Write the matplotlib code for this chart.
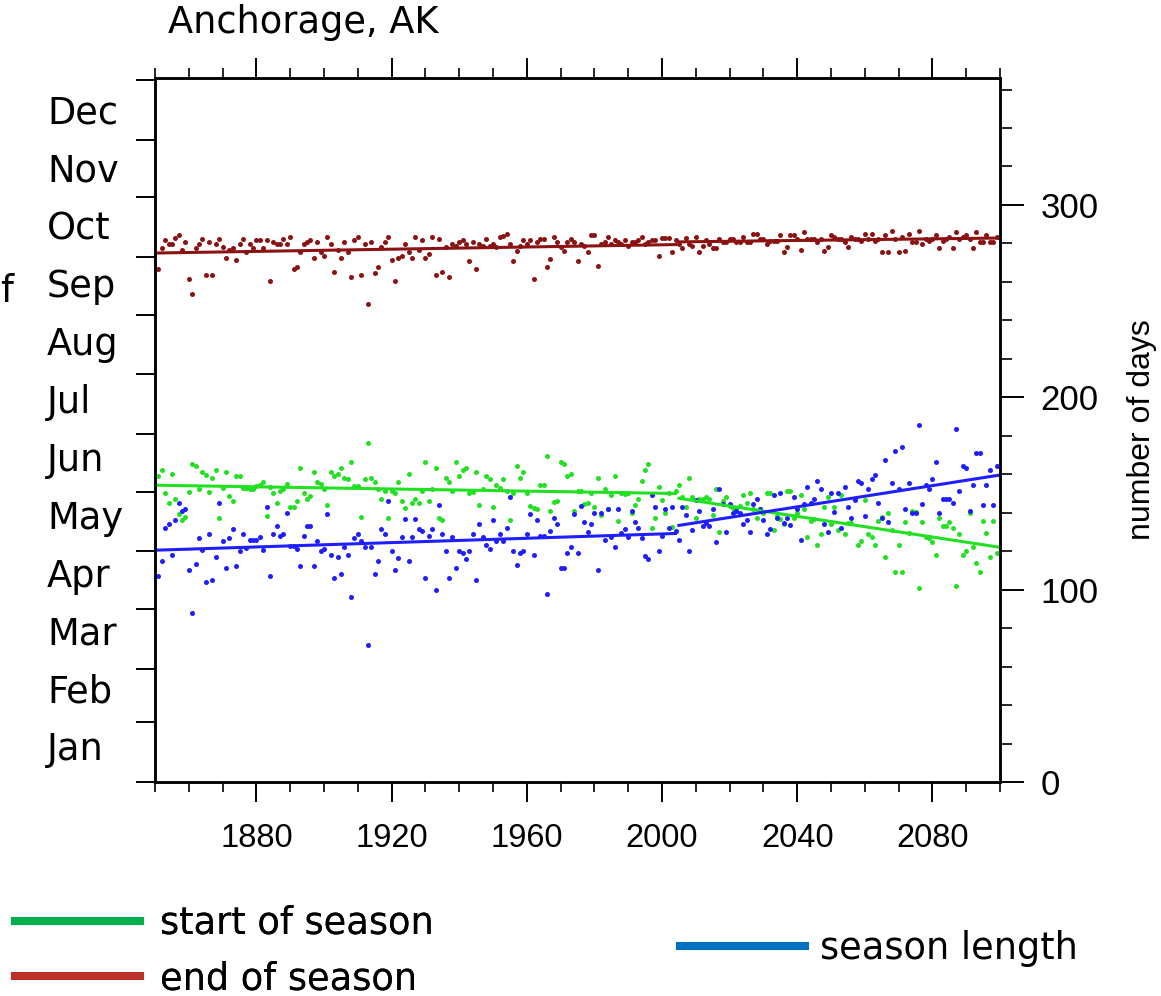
import numpy as np
import matplotlib
matplotlib.use("Agg")
import matplotlib.pyplot as plt
from matplotlib.lines import Line2D
from matplotlib.ticker import MultipleLocator

# yearly values, 1851-2099 (day of year / number of days)
years = np.arange(1851, 2100)

end_of_season = [
    266.7, 277.6, 281.8, 279.7, 279.7, 283.0, 284.5, 276.6, 280.6, 261.5,
    253.6, 277.6, 279.7, 282.5, 263.5, 280.6, 263.5, 279.7, 282.5, 278.3,
    272.6, 276.6, 277.6, 271.5, 279.7, 282.5, 275.5, 279.7, 277.6, 281.8,
    281.8, 277.6, 281.8, 260.6, 280.6, 279.7, 279.7, 282.5, 279.7, 283.5,
    266.7, 267.6, 275.5, 279.7, 280.6, 281.8, 272.6, 280.6, 275.5, 273.6,
    283.5, 279.7, 265.4, 276.6, 272.6, 280.6, 275.5, 262.6, 281.8, 283.5,
    263.5, 279.7, 248.4, 280.6, 264.4, 267.6, 278.3, 280.6, 283.5, 271.5,
    260.6, 272.6, 273.6, 279.7, 275.5, 272.6, 283.5, 276.6, 281.8, 272.6,
    274.6, 283.5, 263.5,
    282.3, 265.4, 278.0, 262.5, 279.7, 278.8, 280.6, 281.8, 279.7, 270.7,
    280.6, 266.5, 279.7, 278.8, 282.3, 278.8, 279.7, 278.0, 283.5, 284.0,
    284.9, 279.7, 270.7, 276.2, 278.8, 281.8, 279.7, 281.8, 261.5, 280.6,
    282.3, 282.3, 267.6, 271.7, 283.5, 280.6, 278.0, 276.2, 280.6, 282.3,
    280.6, 270.7, 279.7, 278.8, 275.3, 284.5, 284.5, 268.4, 279.7, 280.6,
    283.5, 279.7, 281.8, 280.6, 279.7, 281.8, 278.8, 280.6, 280.6, 281.8,
    283.5, 279.7, 280.6, 281.8, 281.8, 273.6, 282.8, 282.8, 282.8, 275.3,
    281.8, 279.7, 277.6, 282.8, 279.7, 278.8, 283.5, 275.3, 278.8, 281.8,
    279.7, 277.6, 277.6,
    282.3, 280.6, 280.6, 282.3, 282.3, 280.6, 280.6, 283.5, 280.6, 280.6,
    284.9, 284.9, 282.3, 282.3, 279.7, 281.4, 281.4, 281.4, 284.5, 275.3,
    278.3, 284.5, 284.5, 282.3, 276.6, 285.8, 282.3, 282.3, 282.3, 280.6,
    282.3, 276.2, 278.3, 284.5, 283.5, 282.3, 282.3, 280.6, 278.3, 283.5,
    282.3, 282.3, 281.4, 284.9, 282.3, 284.9, 281.4, 282.3, 275.3, 284.5,
    275.3, 286.6, 282.3, 275.3, 283.2, 276.2, 284.9, 280.6, 280.6, 286.6,
    279.7, 282.3, 281.4, 282.3, 284.5, 277.6, 281.4, 282.3, 283.2, 277.6,
    285.8, 282.3, 283.5, 284.5, 282.3, 277.6, 285.8, 280.6, 280.6, 284.5,
    280.6, 280.6, 283.2,
]

start_of_season = [
    159.0, 162.2, 150.3, 145.1, 160.2, 147.2, 139.1, 136.1, 137.9, 151.0,
    165.3, 164.2, 152.4, 161.1, 159.4, 151.0, 158.2, 162.2, 137.2, 153.0,
    161.1, 148.9, 146.0, 159.0, 159.0, 153.0, 152.9, 152.4, 152.1, 153.8,
    154.5, 155.9, 138.2, 153.5, 150.3, 145.1, 151.2, 152.1, 155.0, 143.1,
    143.1, 146.0, 163.2, 150.3, 146.9, 148.9, 161.1, 155.9, 155.0, 152.1,
    144.1, 161.1, 159.0, 160.2, 163.2, 158.2, 157.3, 166.3, 153.8, 153.8,
    137.9, 157.3, 176.4,
    158.2, 155.9, 152.1, 147.2, 151.2, 137.3, 151.2, 150.3, 156.1, 146.0,
    142.2, 160.2, 145.1, 147.2, 145.1, 151.2, 166.3, 146.0, 152.1, 163.2,
    137.3, 136.1, 158.2, 155.9, 151.2, 166.3, 159.0, 162.2, 163.2, 150.3,
    151.0, 161.1, 144.1, 152.1, 159.0, 157.3, 143.1, 154.2, 152.9, 157.3,
    151.2, 136.1, 150.3, 164.2, 158.2, 161.1, 150.3, 143.4, 142.5, 142.0,
    154.2, 154.2, 169.4, 141.1, 145.4, 146.3, 166.3, 165.1, 159.0, 160.2,
    141.1, 151.2,
    151.2, 144.3, 144.8, 150.3, 143.1, 158.1, 139.0, 152.1, 141.7, 149.0,
    159.0, 135.9, 150.3, 149.5, 150.3, 139.6, 144.1, 146.9, 156.3, 162.2,
    165.3, 132.1, 137.2, 153.3, 146.4, 139.9, 150.3, 132.5, 151.2, 154.2,
    148.2, 143.1, 158.0, 148.0, 137.2, 147.2, 147.2, 148.2, 147.2, 139.0,
    152.1, 129.9, 146.1, 148.0, 143.4, 142.6, 141.7, 143.4, 149.0, 144.8,
    150.0, 141.7, 137.0, 141.7, 139.9, 150.3, 150.3, 131.2, 138.2, 136.5,
    133.9, 151.2,
    151.2, 137.5, 139.9, 149.0, 141.7, 127.3, 135.6, 136.5, 123.0, 129.1,
    142.9, 148.3, 134.2, 142.9, 131.2, 149.0, 129.1, 134.7, 134.7, 146.9,
    123.0, 125.2, 146.4, 129.1, 127.3, 123.0, 135.9, 137.7, 117.1, 139.9,
    131.2, 109.0, 123.0, 109.0, 135.1, 129.5, 141.1, 140.3, 100.9, 135.1,
    127.3, 126.9, 124.8, 118.1, 137.0, 133.0, 133.0, 135.1, 132.1, 102.1,
    129.1, 118.1, 120.0, 139.9, 122.1, 114.0, 109.0, 135.9, 129.5, 117.1,
    135.9, 119.1,
]

season_length = [
    106.9, 114.8, 131.9, 134.0, 118.0, 136.1, 145.1, 140.8, 142.0, 110.1,
    87.9, 113.1, 127.0, 120.8, 103.8, 129.0, 104.8, 117.0, 145.1, 125.2,
    111.1, 127.0, 131.3, 112.2, 120.0, 129.0, 121.7, 126.0, 126.0, 126.0,
    127.2, 120.8, 143.1, 106.9, 129.0, 133.0, 127.8, 129.0, 139.9, 122.9,
    122.9, 121.2, 112.2, 127.8, 133.0, 133.0, 112.2, 125.2, 120.0, 121.2,
    139.1, 118.2, 106.1, 117.0, 108.0, 122.2, 118.2, 96.2, 127.0, 129.0,
    125.2, 122.2, 71.3,
    122.1, 108.2, 115.1, 131.3, 129.0, 146.3, 120.0, 110.1, 116.2, 127.2,
    136.8, 115.1, 127.2, 136.8, 131.3, 130.4, 106.1, 128.1, 131.3, 100.0,
    144.1, 129.0, 120.0, 106.1, 127.2, 111.3, 120.0, 119.1, 116.0, 120.0,
    129.0, 104.8, 134.2, 127.2, 123.4, 121.2, 136.1, 125.2, 129.0, 125.2,
    131.8, 148.0, 120.0, 113.0, 119.1, 120.0, 129.0, 139.1, 117.9, 136.1,
    127.8, 127.8, 97.9, 130.4, 137.3, 134.2, 111.3, 111.3, 119.1, 122.1,
    139.1, 119.1,
    143.4, 135.1, 129.9, 133.9, 139.9, 110.1, 139.6, 126.0, 142.0, 127.4,
    122.2, 142.0, 129.5, 131.3, 127.4, 141.1, 135.1, 132.1, 126.9, 117.4,
    116.0, 149.0, 143.1, 120.0, 127.8, 142.0, 132.1, 143.1, 130.4, 126.0,
    143.1, 138.9, 120.0, 131.0, 146.6, 141.1, 133.0, 134.7, 133.0, 142.0,
    125.0, 152.1, 144.3, 129.9, 144.3, 139.9, 140.8, 139.9, 133.9, 136.0,
    129.9, 144.3, 147.2, 142.0, 136.0, 128.7, 131.3, 149.0, 137.3, 150.4,
    134.7, 137.3,
    133.4, 148.3, 141.7, 126.0, 144.3, 153.3, 145.2, 147.2, 156.4, 152.1,
    134.2, 129.9, 150.4, 140.3, 150.4, 132.1, 153.3, 143.1, 137.3, 146.6,
    156.4, 155.6, 138.2, 152.1, 157.3, 159.4, 145.2, 137.3, 167.4, 135.1,
    155.2, 172.2, 152.1, 174.3, 142.0, 155.2, 139.6, 139.6, 185.4, 144.3,
    154.2, 152.1, 157.3, 166.3, 139.9, 147.2, 147.2, 147.2, 145.2, 183.3,
    151.2, 164.2, 163.0, 141.1, 154.2, 171.2, 171.2, 144.1, 154.2, 162.2,
    144.1, 164.2,
]

# linear trends, fitted separately before/after 2004
trend_years = [[1850, 2004], [2005, 2100]]
start_trend = [[154.3, 150.0], [147.5, 122.0]]
end_trend = [[275.0, 279.4], [280.8, 282.8]]
length_trend = [[120.5, 129.2], [133.4, 159.6]]

month_names = ["Jan", "Feb", "Mar", "Apr", "May", "Jun",
               "Jul", "Aug", "Sep", "Oct", "Nov", "Dec"]
month_edges = [0, 31, 59, 90, 120, 151, 181, 212, 243, 273, 304, 334, 365]
day_ticks = [0, 100, 200, 300]
year_ticks = [1880, 1920, 1960, 2000, 2040, 2080]

'''
Colours
'''
red = "#8b1212"
green = "#22e022"
blue = "#1e1eff"

W, H = 1161, 996
fig = plt.figure(figsize=(W / 100, H / 100), dpi=100)
ax = fig.add_axes([155 / W, 214 / H, 845 / W, 704 / H])

# yearly dots
ax.plot(years, end_of_season, "o", ms=3.6, color=red, mec="none")
ax.plot(years, start_of_season, "o", ms=3.6, color=green, mec="none")
ax.plot(years, season_length, "o", ms=3.6, color=blue, mec="none")

# trend lines
for yrs, s, e, l in zip(trend_years, start_trend, end_trend, length_trend):
    ax.plot(yrs, e, color=red, lw=2.2)
    ax.plot(yrs, s, color=green, lw=2.2)
    ax.plot(yrs, l, color=blue, lw=2.2)

ax.set_xlim(1850, 2100)
ax.set_ylim(0, 366)

# left axis: month boundaries, no labels
ax.set_yticks(month_edges)
ax.set_yticklabels([])
ax.tick_params(axis="y", direction="out", length=13.7, width=1.4)

# x axis ticks on top and bottom
ax.set_xticks(year_ticks)
ax.xaxis.set_minor_locator(MultipleLocator(10))
ax.tick_params(axis="x", which="major", direction="out", length=14.4, width=1.4,
               top=True, bottom=True, labelsize=23.5, pad=15,
               labelfontfamily="Liberation Sans")
ax.tick_params(axis="x", which="minor", direction="out", length=7.2, width=1.2,
               top=True, bottom=True)

# right axis: number of days
ax2 = ax.twinx()
ax2.set_ylim(0, 366)
ax2.set_yticks(day_ticks)
ax2.yaxis.set_minor_locator(MultipleLocator(20))
ax2.tick_params(axis="y", which="major", direction="out", length=17, width=1.4,
                labelsize=25, pad=12, labelfontfamily="Liberation Sans")
ax2.tick_params(axis="y", which="minor", direction="out", length=8.5, width=1.2)
ax2.set_ylabel("number of days", fontsize=23, family="Liberation Sans")
ax2.yaxis.set_label_coords(1.150, 0.5)

for a in (ax, ax2):
    for sp in a.spines.values():
        sp.set_linewidth(1.8)

# title and month names
fig.text(168 / W, 1 - 33 / H, "Anchorage, AK", fontsize=26.5, va="baseline", ha="left")
label_rows = np.linspace(760, 124, len(month_names))
for name, yy in zip(month_names, label_rows):
    fig.text(47 / W, 1 - yy / H, name, fontsize=26.5, va="baseline", ha="left")
fig.text(0, 1 - 302 / H, "f", fontsize=26.5, va="baseline", ha="left")

# legend
h_start = Line2D([], [], color="#00b050", lw=5.8)
h_end = Line2D([], [], color="#c0302a", lw=5.8)
h_len = Line2D([], [], color="#0070c0", lw=5.8)
leg1 = fig.legend([h_start, h_end], ["start of season", "end of season"],
                  loc="center left", bbox_to_anchor=(15 / W, 1 - 951 / H),
                  frameon=False, fontsize=26.5, handlelength=3.4, handletextpad=0.55,
                  labelspacing=0.5, borderpad=0, borderaxespad=0)
fig.legend([h_len], ["season length"],
           loc="center left", bbox_to_anchor=(680 / W, 1 - 948 / H),
           frameon=False, fontsize=26.5, handlelength=3.4, handletextpad=0.4,
           borderpad=0, borderaxespad=0)
fig.add_artist(leg1)

fig.savefig("out.png", dpi=100)
